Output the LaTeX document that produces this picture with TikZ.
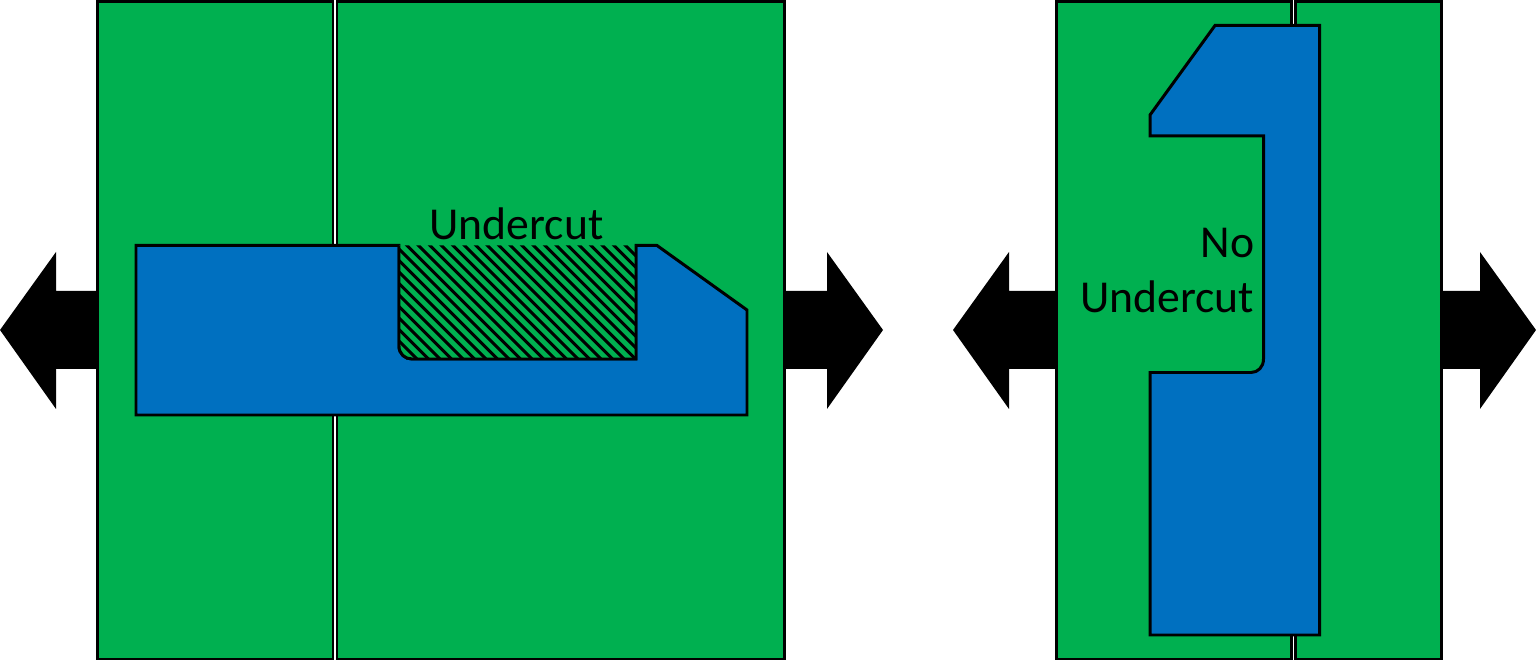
\documentclass[tikz,border=0pt]{standalone}
\usepackage{fontspec}
\setmainfont{Carlito}
\definecolor{moldgreen}{RGB}{0,176,80}
\definecolor{partblue}{RGB}{0,112,192}
\tikzset{
  moldhalf/.style={draw=black,line width=1.7pt,fill=moldgreen},
  part/.style={draw=black,line width=1.7pt,fill=partblue},
  hatchline/.style={black,line width=1.8pt},
  pullarrow/.style={fill=black},
  label/.style={font=\fontsize{26}{32}\selectfont,inner sep=0pt}
}
\begin{document}
\begin{tikzpicture}[x=0.02cm,y=-0.02cm]
  \useasboundingbox (0,0) rectangle (1536,661);

  % pull directions
  \fill[pullarrow] (0,330) -- (56,252) -- (56,291) -- (100,291) -- (100,369) -- (56,369) -- (56,409) -- cycle;
  \fill[pullarrow] (883,330) -- (827,252) -- (827,291) -- (782,291) -- (782,369) -- (827,369) -- (827,409) -- cycle;
  \fill[pullarrow] (953,330) -- (1009,252) -- (1009,291) -- (1059,291) -- (1059,369) -- (1009,369) -- (1009,409) -- cycle;
  \fill[pullarrow] (1536,330) -- (1480,252) -- (1480,291) -- (1439,291) -- (1439,369) -- (1480,369) -- (1480,409) -- cycle;

  % mold halves
  \draw[moldhalf] (97.5,1.5) rectangle (333,659);
  \draw[moldhalf] (337,1.5) rectangle (784.5,659);
  \draw[moldhalf] (1056,1.5) rectangle (1291,659);
  \draw[moldhalf] (1295.5,1.5) rectangle (1441.5,659);

  % left part
  \draw[part] (136,245.5) -- (399,245.5) -- (399,346)
    .. controls (399,354) and (405,359) .. (412,359) -- (636,359) -- (636,245.5) -- (657,245.5)
    -- (747,310) -- (747,415) -- (136,415) -- cycle;

  % undercut region
  \fill[moldgreen] (399,245.5) -- (399,346) .. controls (399,354) and (405,359) .. (412,359) -- (636,359) -- (636,245.5) -- cycle;
  \begin{scope}
    \clip (399,245.5) -- (399,346) .. controls (399,354) and (405,359) .. (412,359) -- (636,359) -- (636,245.5) -- cycle;
    \foreach \i in {0,...,34} {
      \draw[hatchline] ({270+11.5*\i},235) -- ({270+11.5*\i+135},370);
    }
  \end{scope}
  \draw[black,line width=1.7pt] (399,245.5) -- (399,346) .. controls (399,354) and (405,359) .. (412,359) -- (636,359) -- (636,245.5);

  % right part
  \draw[part] (1215,25.5) -- (1319.5,25.5) -- (1319.5,635) -- (1150,635) -- (1150,372.5) -- (1251,372.5)
    .. controls (1258,372.5) and (1263.5,367) .. (1263.5,359) -- (1263.5,136) -- (1150,136) -- (1150,115) -- cycle;

  \node[label,anchor=base] (undercut) at (516.5,240) {Undercut};
  \node[label,anchor=base east] (no) at (1254.5,258) {No};
  \node[label,anchor=base east] (noundercut) at (1254.5,313) {Undercut};
\end{tikzpicture}
\end{document}
